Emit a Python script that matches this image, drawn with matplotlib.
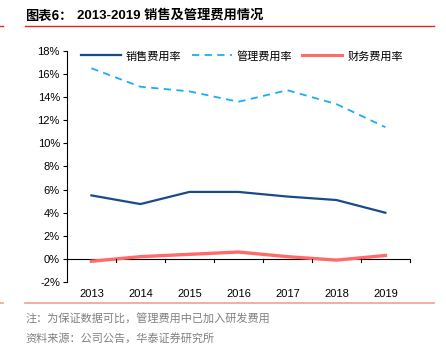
import numpy as np
import matplotlib
matplotlib.use('Agg')
import matplotlib.pyplot as plt
from matplotlib.lines import Line2D

years = ['2013', '2014', '2015', '2016', '2017', '2018', '2019']
sales_rate = [5.5, 4.75, 5.8, 5.8, 5.4, 5.1, 4.0]
admin_rate = [16.5, 14.9, 14.5, 13.6, 14.6, 13.4, 11.4]
fin_rate = [-0.2, 0.2, 0.4, 0.6, 0.2, -0.1, 0.3]
labels = ['销售费用率', '管理费用率', '财务费用率']

CJK = ['Noto Sans CJK SC', 'DejaVu Sans']
NUM = ['Liberation Sans', 'Noto Sans CJK SC']

fig = plt.figure(figsize=(4.46, 3.44), dpi=100)
ax = fig.add_axes([0.150, 0.180, 0.769, 0.672])

x = np.arange(len(years))
ax.plot(x, sales_rate, color='#1B4A8A', lw=1.6, label=labels[0])
ax.plot(x, admin_rate, color='#1AAEF0', lw=1.3, ls=(0, (4, 3)), label=labels[1])
ax.plot(x, fin_rate, color='#FF6B6B', lw=2.4, label=labels[2])

ax.set_xlim(-0.5, len(years) - 0.5)
ax.set_ylim(-2, 18)
ax.set_yticks(np.arange(-2, 19, 2))
ax.set_yticklabels([f'{v}%' for v in range(-2, 19, 2)], family=NUM, fontsize=8)
ax.set_xticks(x)
ax.set_xticklabels(years, family=NUM, fontsize=8)
ax.tick_params(axis='x', length=0, pad=5)
ax.tick_params(axis='y', direction='out', length=3, width=0.8, pad=2)

for s in ['top', 'right', 'bottom']:
    ax.spines[s].set_visible(False)
ax.spines['left'].set_linewidth(0.8)
ax.axhline(0, color='black', lw=0.8, zorder=1)
# category boundary ticks on the zero line
for b in np.arange(-0.5, len(years), 1.0):
    ax.plot([b, b], [0, -0.3], color='black', lw=0.8, clip_on=False)

handles = [
    Line2D([0], [0], color='#1B4A8A', lw=1.6),
    Line2D([0], [0], color='#1AAEF0', lw=1.3, ls=(0, (4, 3))),
    Line2D([0], [0], color='#FF6B6B', lw=2.2),
]
leg = ax.legend(handles, labels, loc='upper center', ncol=3, frameon=False,
                bbox_to_anchor=(0.51, 1.045), handlelength=3.6, columnspacing=0.9,
                handletextpad=0.45, prop={'family': CJK, 'size': 8})

# header
fig.text(0.056, 0.955, '图表6：', family=CJK, fontsize=9.5, fontweight='bold', va='center')
fig.text(0.172, 0.955, '2013-2019 销售及管理费用情况', family=['Liberation Sans', 'Noto Sans CJK SC'],
         fontsize=9.5, fontweight='bold', va='center')
fig.add_artist(Line2D([0.056, 0.972], [0.924, 0.924], color='#E8231E', lw=1.0))
fig.add_artist(Line2D([0.0, 0.006], [0.924, 0.924], color='#E8231E', lw=1.0))

# footer
fig.add_artist(Line2D([0.056, 0.972], [0.119, 0.119], color='#F0A090', lw=1.2))
fig.add_artist(Line2D([0.0, 0.006], [0.119, 0.119], color='#F0A090', lw=1.2))
fig.text(0.058, 0.075, '注：为保证数据可比，管理费用中已加入研发费用', family=CJK,
         fontsize=8, color='#808080', va='center')
fig.text(0.058, 0.018, '资料来源：公司公告，华泰证券研究所', family=CJK,
         fontsize=8, color='#808080', va='center')

fig.savefig('out.png', dpi=100)
